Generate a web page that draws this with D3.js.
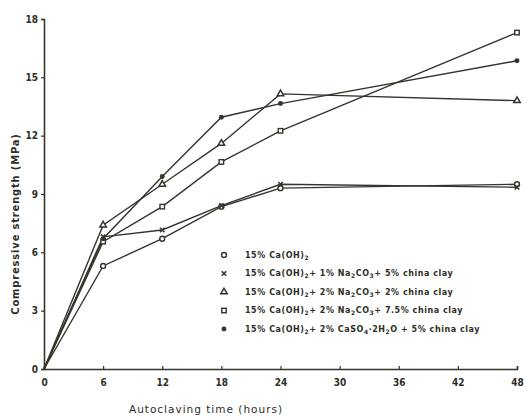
<!DOCTYPE html>
<html>
<head>
<meta charset="utf-8">
<script src="https://cdn.jsdelivr.net/npm/d3@7"></script>
<style>
  body { margin: 0; background: #fff; }
  svg { display: block; }
  text { font-family: "DejaVu Sans", sans-serif; fill: #2e2e26; }
</style>
</head>
<body>
<svg id="chart"></svg>
<script>
// autoclaving time (hours)
const hours = [0, 6, 12, 18, 24, 48];

// compressive strength (MPa), one array per mix
const caOH = [0, 5.3, 6.7, 8.35, 9.3, 9.5];
const naCO1clay5 = [0, 6.8, 7.15, 8.4, 9.5, 9.35];
const naCO2clay2 = [0, 7.4, 9.5, 11.6, 14.15, 13.8];
const naCO2clay75 = [0, 6.55, 8.35, 10.65, 12.25, 17.3];
const caSO4clay5 = [0, 6.7, 9.9, 12.95, 13.65, 15.85];

const xTicks = [0, 6, 12, 18, 24, 30, 36, 42, 48];
const yTicks = [0, 3, 6, 9, 12, 15, 18];

// legend entries: [text, subscript] pieces
const legendLabels = [
    [["15%  Ca(OH)"], ["2", true]],
    [["15%  Ca(OH)"], ["2", true], ["+ 1% Na"], ["2", true], ["CO"], ["3", true], ["+ 5% china clay"]],
    [["15%  Ca(OH)"], ["2", true], ["+ 2% Na"], ["2", true], ["CO"], ["3", true], ["+ 2% china clay"]],
    [["15%  Ca(OH)"], ["2", true], ["+ 2% Na"], ["2", true], ["CO"], ["3", true], ["+ 7.5% china clay"]],
    [["15%  Ca(OH)"], ["2", true], ["+ 2% CaSO"], ["4", true], ["·2H"], ["2", true], ["O + 5%  china clay"]]
];
const markerTypes = ["circle", "cross", "triangle", "square", "dot"];

const W = 527, H = 419;
const ink = "#35352c";

const series = [caOH, naCO1clay5, naCO2clay2, naCO2clay75, caSO4clay5];

const svg = d3.select("#chart").attr("width", W).attr("height", H);

const x = d3.scaleLinear().domain([0, 48]).range([44, 517]);
const y = d3.scaleLinear().domain([0, 18]).range([369, 19]);

// axes
const xAxis = svg.append("g")
    .attr("transform", `translate(0,${y(0)})`)
    .call(d3.axisBottom(x).tickValues(xTicks).tickSize(-3).tickPadding(8).tickFormat(d3.format("d")));
const yAxis = svg.append("g")
    .attr("transform", `translate(${x(0)},0)`)
    .call(d3.axisLeft(y).tickValues(yTicks).tickSize(3).tickPadding(3).tickFormat(d3.format("d")));

[xAxis, yAxis].forEach(g => {
    g.select(".domain").attr("stroke", ink).attr("stroke-width", 1.6);
    g.selectAll(".tick line").attr("stroke", ink).attr("stroke-width", 1.2);
    g.selectAll(".tick text")
        .attr("fill", ink)
        .style("font-size", "10px")
        .style("font-weight", "bold")
        .style("font-family", "'DejaVu Sans Condensed', 'DejaVu Sans', sans-serif");
});
xAxis.selectAll(".tick text").attr("dy", "0.9em");

// axis titles
svg.append("text")
    .attr("x", 206).attr("y", 413)
    .attr("text-anchor", "middle")
    .style("font-size", "10.5px")
    .style("letter-spacing", "1px")
    .text("Autoclaving  time  (hours)");

svg.append("text")
    .attr("transform", "translate(19,224) rotate(-90)")
    .attr("text-anchor", "middle")
    .style("font-size", "10px")
    .style("font-weight", "bold")
    .style("letter-spacing", "0.8px")
    .text("Compressive  strength   (MPa)");

// lines
const line = d3.line()
    .x((d, i) => x(hours[i]))
    .y(d => y(d));

svg.append("g")
    .selectAll("path")
    .data(series)
    .join("path")
    .attr("d", d => line(d))
    .attr("fill", "none")
    .attr("stroke", ink)
    .attr("stroke-width", 1.4);

// markers
const drawMarker = (g, type, size) => {
    const s = size;
    if (type === "circle") {
        g.append("circle").attr("r", s * 0.55).attr("fill", "#fff").attr("stroke", ink).attr("stroke-width", 1.4);
    } else if (type === "cross") {
        g.append("path").attr("d", `M${-s / 2},${-s / 2}L${s / 2},${s / 2}M${s / 2},${-s / 2}L${-s / 2},${s / 2}`)
            .attr("stroke", ink).attr("stroke-width", 1.6);
    } else if (type === "triangle") {
        g.append("path").attr("d", d3.symbol(d3.symbolTriangle, s * s * 0.9)())
            .attr("fill", "#fff").attr("stroke", ink).attr("stroke-width", 1.5);
    } else if (type === "square") {
        g.append("rect").attr("x", -s / 2).attr("y", -s / 2).attr("width", s).attr("height", s)
            .attr("fill", "#fff").attr("stroke", ink).attr("stroke-width", 1.4);
    } else {
        g.append("circle").attr("r", s * 0.55).attr("fill", ink);
    }
};

series.forEach((vals, si) => {
    vals.forEach((v, i) => {
        if (i === 0) return;
        const g = svg.append("g").attr("transform", `translate(${x(hours[i])},${y(v)})`);
        drawMarker(g, markerTypes[si], 4.5);
    });
});

// legend
const legend = svg.append("g").attr("transform", "translate(224,255)");
legendLabels.forEach((parts, i) => {
    const row = legend.append("g").attr("transform", `translate(0,${i * 18.5})`);
    drawMarker(row.append("g"), markerTypes[i], 4.5);
    const t = row.append("text")
        .attr("x", 21).attr("dy", "0.35em")
        .style("font-size", "8px")
        .style("font-weight", "bold")
        .style("letter-spacing", "0.55px");
    parts.forEach(([s, sub]) => {
        t.append("tspan")
            .attr("baseline-shift", sub ? "-25%" : null)
            .style("font-size", sub ? "6px" : null)
            .text(s);
    });
});
</script>
</body>
</html>
